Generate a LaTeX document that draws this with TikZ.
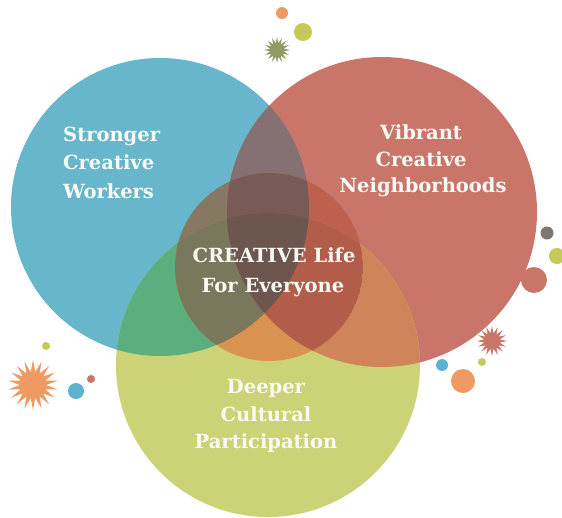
\documentclass[tikz,border=0pt]{standalone}
\usepackage{fontspec}
\newfontfamily\lblfont{DejaVu Serif}
\usetikzlibrary{shapes.geometric}
\definecolor{cblue}{HTML}{67B6CC}
\definecolor{cred}{HTML}{C9756A}
\definecolor{cgreen}{HTML}{CCD276}
\definecolor{cBR}{HTML}{857074}
\definecolor{cBG}{HTML}{5BAE7E}
\definecolor{cRG}{HTML}{CF845A}
\definecolor{iB}{HTML}{867862}
\definecolor{iR}{HTML}{BE604E}
\definecolor{iG}{HTML}{D9924F}
\definecolor{iBR}{HTML}{785A56}
\definecolor{iBG}{HTML}{7A785C}
\definecolor{iRG}{HTML}{B25D4A}
\definecolor{iBRG}{HTML}{6D564E}
\definecolor{dorange}{HTML}{EE9A62}
\definecolor{dyg}{HTML}{C2CB58}
\definecolor{dblue}{HTML}{5BB3CF}
\definecolor{dred}{HTML}{C9756A}
\definecolor{dgrey}{HTML}{7F7571}
\definecolor{dolive}{HTML}{8E9B63}
\definecolor{txt}{HTML}{FAFAF4}
\tikzset{
  lbl/.style={text=txt, font=\lblfont\bfseries\fontsize{19.5}{23}\selectfont, inner sep=0pt},
  dot/.style={circle, inner sep=0pt, draw=none},
  spark/.style={star, inner sep=0pt, draw=none, star point ratio=1.9}
}
\begin{document}
\begin{tikzpicture}[x=1pt,y=-1pt]
\useasboundingbox[fill=white] (0,0) rectangle (562,517);
\coordinate (B) at (160,207);
\coordinate (R) at (382,212);
\coordinate (G) at (268,365);
\coordinate (C) at (269,267);
% base circles
\fill[cblue] (B) circle (149pt);
\fill[cred] (R) circle (155pt);
\fill[cgreen] (G) circle (152pt);
\begin{scope}
  \clip (B) circle (149pt);
  \fill[cBR] (R) circle (155pt);
  \fill[cBG] (G) circle (152pt);
\end{scope}
\begin{scope}
  \clip (R) circle (155pt);
  \fill[cRG] (G) circle (152pt);
\end{scope}
% central circle
\begin{scope}
  \clip (C) circle (94pt);
  \fill[iB] (B) circle (149pt);
  \fill[iR] (R) circle (155pt);
  \fill[iG] (G) circle (152pt);
  \begin{scope}
    \clip (B) circle (149pt);
    \fill[iBR] (R) circle (155pt);
    \fill[iBG] (G) circle (152pt);
  \end{scope}
  \begin{scope}
    \clip (R) circle (155pt);
    \clip (G) circle (152pt);
    \fill[iRG] (C) circle (94pt);
  \end{scope}
  \begin{scope}
    \clip (B) circle (149pt);
    \clip (R) circle (155pt);
    \clip (G) circle (152pt);
    \fill[iBRG] (C) circle (94pt);
  \end{scope}
\end{scope}
% decorations
\node[dot, fill=dorange, minimum size=12pt] (d1) at (282,13) {};
\node[dot, fill=dyg, minimum size=18pt] (d2) at (303,32) {};
\node[spark, fill=dolive, star points=16, minimum size=26pt] (s1) at (277,50) {};
\node[dot, fill=dyg, minimum size=8pt] (d3) at (46,346) {};
\node[spark, fill=dorange, star points=18, minimum size=50pt] (s2) at (33,385) {};
\node[dot, fill=dblue, minimum size=16pt] (d4) at (76,391) {};
\node[dot, fill=dred, minimum size=8pt] (d5) at (91,379) {};
\node[dot, fill=dgrey, minimum size=13pt] (d6) at (547,233) {};
\node[dot, fill=dyg, minimum size=16pt] (d7) at (557,256) {};
\node[dot, fill=dred, minimum size=26pt] (d8) at (534,280) {};
\node[spark, fill=dred, star points=16, minimum size=30pt] (s3) at (492,341) {};
\node[dot, fill=dyg, minimum size=8pt] (d9) at (482,362) {};
\node[dot, fill=dblue, minimum size=12pt] (d10) at (442,365) {};
\node[dot, fill=dorange, minimum size=24pt] (d11) at (463,381) {};
% labels
\node[lbl, anchor=base west] (t1) at (63,141) {Stronger};
\node[lbl, anchor=base west] (t2) at (63,169) {Creative};
\node[lbl, anchor=base west] (t3) at (63,198) {Workers};
\node[lbl, anchor=base] (t4) at (421,139) {Vibrant};
\node[lbl, anchor=base] (t5) at (421,166) {Creative};
\node[lbl, anchor=base] (t6) at (423,192) {Neighborhoods};
\node[lbl, anchor=base] (t7) at (274,262) {CREATIVE Life};
\node[lbl, anchor=base] (t8) at (273,292) {For Everyone};
\node[lbl, anchor=base] (t9) at (266,393) {Deeper};
\node[lbl, anchor=base] (t10) at (266,421) {Cultural};
\node[lbl, anchor=base] (t11) at (266,448) {Participation};
\end{tikzpicture}
\end{document}
